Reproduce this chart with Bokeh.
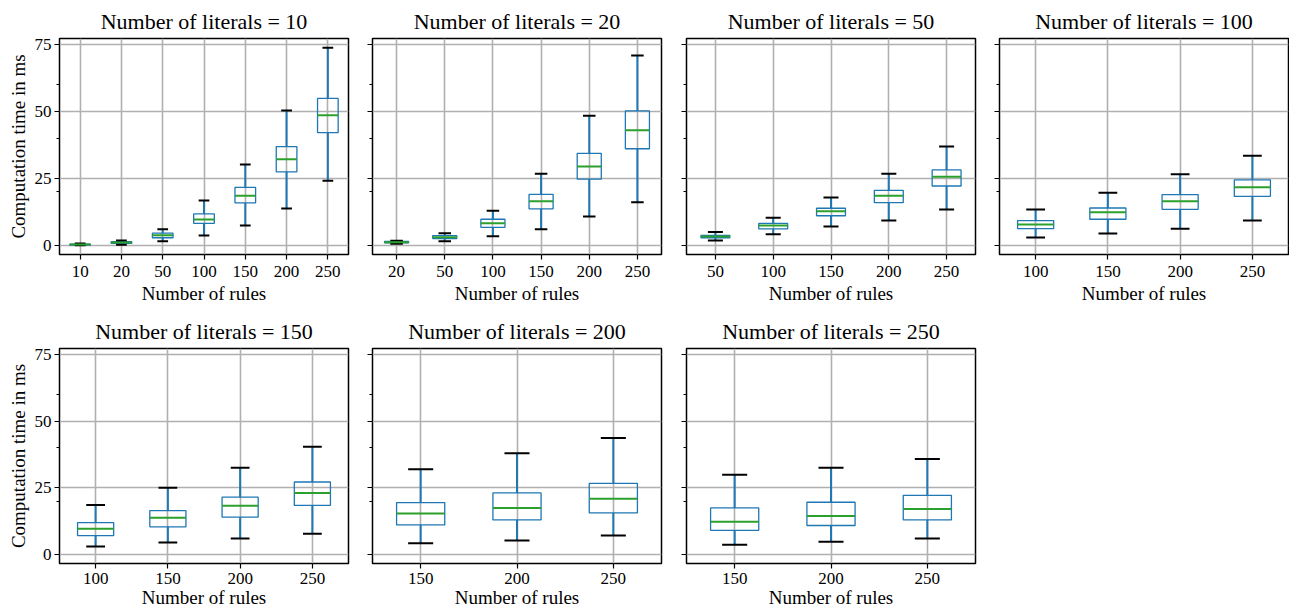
import numpy as np
from bokeh.plotting import figure
from bokeh.models import FixedTicker, Range1d
from bokeh.layouts import column, row
from bokeh.embed import file_html
from bokeh.resources import INLINE

# ---------------- data ----------------
LITERALS = [10, 20, 50, 100, 150, 200, 250]

RULES_L10 = [10, 20, 50, 100, 150, 200, 250]
LOW_L10 = [0.1, 0.3, 1.6, 3.7, 7.5, 13.8, 24.2]
Q1_L10 = [0.2, 0.8, 2.9, 8.3, 15.9, 27.5, 42.1]
MED_L10 = [0.35, 1.1, 3.8, 9.7, 18.6, 32.2, 48.6]
Q3_L10 = [0.5, 1.4, 4.6, 11.8, 21.7, 36.9, 54.9]
HIGH_L10 = [0.8, 1.9, 6.1, 16.8, 30.2, 50.4, 73.8]

RULES_L20 = [20, 50, 100, 150, 200, 250]
LOW_L20 = [0.7, 1.6, 3.5, 6.1, 10.8, 16.1]
Q1_L20 = [1.0, 2.6, 6.8, 13.7, 24.8, 36.1]
MED_L20 = [1.2, 3.1, 8.3, 16.5, 29.5, 43.0]
Q3_L20 = [1.5, 3.7, 9.8, 19.1, 34.4, 50.2]
HIGH_L20 = [1.8, 4.6, 13.0, 26.8, 48.4, 70.9]

RULES_L50 = [50, 100, 150, 200, 250]
LOW_L50 = [1.9, 4.2, 7.1, 9.3, 13.4]
Q1_L50 = [2.9, 6.2, 11.1, 16.0, 22.2]
MED_L50 = [3.35, 7.45, 12.8, 18.6, 25.7]
Q3_L50 = [3.8, 8.3, 13.9, 20.6, 28.2]
HIGH_L50 = [5.0, 10.4, 17.9, 26.8, 36.9]

RULES_L100 = [100, 150, 200, 250]
LOW_L100 = [3.0, 4.5, 6.3, 9.3]
Q1_L100 = [6.3, 9.8, 13.5, 18.3]
MED_L100 = [7.8, 12.4, 16.5, 21.7]
Q3_L100 = [9.3, 14.0, 19.0, 24.5]
HIGH_L100 = [13.4, 19.7, 26.6, 33.5]

RULES_L150 = [100, 150, 200, 250]
LOW_L150 = [3.0, 4.5, 6.0, 7.8]
Q1_L150 = [7.1, 10.4, 14.0, 18.4]
MED_L150 = [9.7, 13.8, 18.3, 23.1]
Q3_L150 = [12.0, 16.5, 21.5, 27.2]
HIGH_L150 = [18.6, 25.0, 32.5, 40.4]

RULES_L200 = [150, 200, 250]
LOW_L200 = [4.2, 5.3, 7.1]
Q1_L200 = [11.1, 13.0, 15.6]
MED_L200 = [15.4, 17.5, 20.9]
Q3_L200 = [19.5, 23.1, 26.7]
HIGH_L200 = [32.0, 38.0, 43.7]

RULES_L250 = [150, 200, 250]
LOW_L250 = [3.7, 4.8, 6.0]
Q1_L250 = [9.1, 10.9, 13.0]
MED_L250 = [12.3, 14.5, 17.1]
Q3_L250 = [17.5, 19.6, 22.2]
HIGH_L250 = [29.9, 32.5, 35.8]

Y_MAJOR = [0, 25, 50, 75]
Y_MINOR = [20, 40, 60]
Y_LABEL = "Computation time in ms"
X_LABEL = "Number of rules"

# ---------------- styling ----------------
FONT = "Liberation Serif"
BLUE = "#1f77b4"
GREEN = "#2ca02c"
GRID = "#b0b0b0"


def make_panel(lit, rules, lo, q1, med, q3, hi, show_ylabels,
               width, height, bl, br, bt, bb, xstand, astand):
    n = len(rules)
    xs = np.arange(1, n + 1, dtype=float)
    p = figure(width=width, height=height,
               x_range=Range1d(0.5, n + 0.5), y_range=Range1d(-3.35, 77.24),
               output_backend="svg", toolbar_location=None,
               min_border_left=bl, min_border_right=br,
               min_border_top=bt, min_border_bottom=bb)
    p.background_fill_color = "white"
    p.border_fill_color = "white"
    p.outline_line_color = "black"
    p.outline_line_width = 1.5
    p.outline_line_alpha = 1.0

    p.title.text = f"Number of literals = {lit}"
    p.title.text_font = FONT
    p.title.text_font_size = "22px"
    p.title.text_font_style = "normal"
    p.title.align = "center"
    p.title.text_color = "black"

    # axes
    p.xaxis.ticker = FixedTicker(ticks=list(xs))
    p.xaxis.major_label_overrides = {int(x): str(r) for x, r in zip(xs, rules)}
    p.yaxis.ticker = FixedTicker(ticks=Y_MAJOR, minor_ticks=Y_MINOR)
    for ax in (p.xaxis[0], p.yaxis[0]):
        ax.axis_line_color = None
        ax.major_tick_in = 0
        ax.major_tick_out = 5
        ax.major_tick_line_color = "black"
        ax.major_tick_line_width = 1.2
        ax.minor_tick_in = 0
        ax.minor_tick_out = 3
        ax.minor_tick_line_color = "black"
        ax.minor_tick_line_width = 1.0
        ax.major_label_text_font = FONT
        ax.major_label_text_font_size = "17px"
        ax.major_label_text_color = "black"
        ax.major_label_standoff = 3
        ax.axis_label_text_font = FONT
        ax.axis_label_text_font_size = "19px"
        ax.axis_label_text_font_style = "normal"
        ax.axis_label_text_color = "black"
        ax.axis_label_standoff = 3
    p.xaxis.major_label_standoff = xstand
    p.xaxis.axis_label_standoff = astand
    p.xaxis.axis_label = X_LABEL
    if show_ylabels:
        p.yaxis.axis_label = Y_LABEL
    else:
        p.yaxis.major_label_overrides = {t: "" for t in Y_MAJOR}
        p.yaxis.major_label_standoff = 0

    for g in (p.xgrid[0], p.ygrid[0]):
        g.grid_line_color = GRID
        g.grid_line_width = 1.6

    # boxes
    p.segment(xs, lo, xs, q1, line_color=BLUE, line_width=2)
    p.segment(xs, q3, xs, hi, line_color=BLUE, line_width=2)
    p.vbar(x=xs, width=0.5, bottom=q1, top=q3, fill_color=None,
           line_color=BLUE, line_width=1.3)
    p.segment(xs - 0.13, lo, xs + 0.13, lo, line_color="black", line_width=2)
    p.segment(xs - 0.13, hi, xs + 0.13, hi, line_color="black", line_width=2)
    p.segment(xs - 0.25, med, xs + 0.25, med, line_color=GREEN, line_width=2)
    return p


H1, H2 = 310, 303
r1 = dict(height=H1, bt=38, bb=56, xstand=6, astand=3)
r2 = dict(height=H2, bt=38, bb=50, xstand=4, astand=0)
p1 = make_panel(LITERALS[0], RULES_L10, LOW_L10, Q1_L10, MED_L10, Q3_L10, HIGH_L10, True, width=352, bl=59, br=4, **r1)
p2 = make_panel(LITERALS[1], RULES_L20, LOW_L20, Q1_L20, MED_L20, Q3_L20, HIGH_L20, False, width=313, bl=20, br=4, **r1)
p3 = make_panel(LITERALS[2], RULES_L50, LOW_L50, Q1_L50, MED_L50, Q3_L50, HIGH_L50, False, width=314, bl=21, br=4, **r1)
p4 = make_panel(LITERALS[3], RULES_L100, LOW_L100, Q1_L100, MED_L100, Q3_L100, HIGH_L100, False, width=310, bl=20, br=1, **r1)
p5 = make_panel(LITERALS[4], RULES_L150, LOW_L150, Q1_L150, MED_L150, Q3_L150, HIGH_L150, True, width=352, bl=59, br=4, **r2)
p6 = make_panel(LITERALS[5], RULES_L200, LOW_L200, Q1_L200, MED_L200, Q3_L200, HIGH_L200, False, width=313, bl=20, br=4, **r2)
p7 = make_panel(LITERALS[6], RULES_L250, LOW_L250, Q1_L250, MED_L250, Q3_L250, HIGH_L250, False, width=314, bl=21, br=4, **r2)

layout = column(row(p1, p2, p3, p4), row(p5, p6, p7))

with open("out.html", "w") as f:
    f.write(file_html(layout, INLINE))
